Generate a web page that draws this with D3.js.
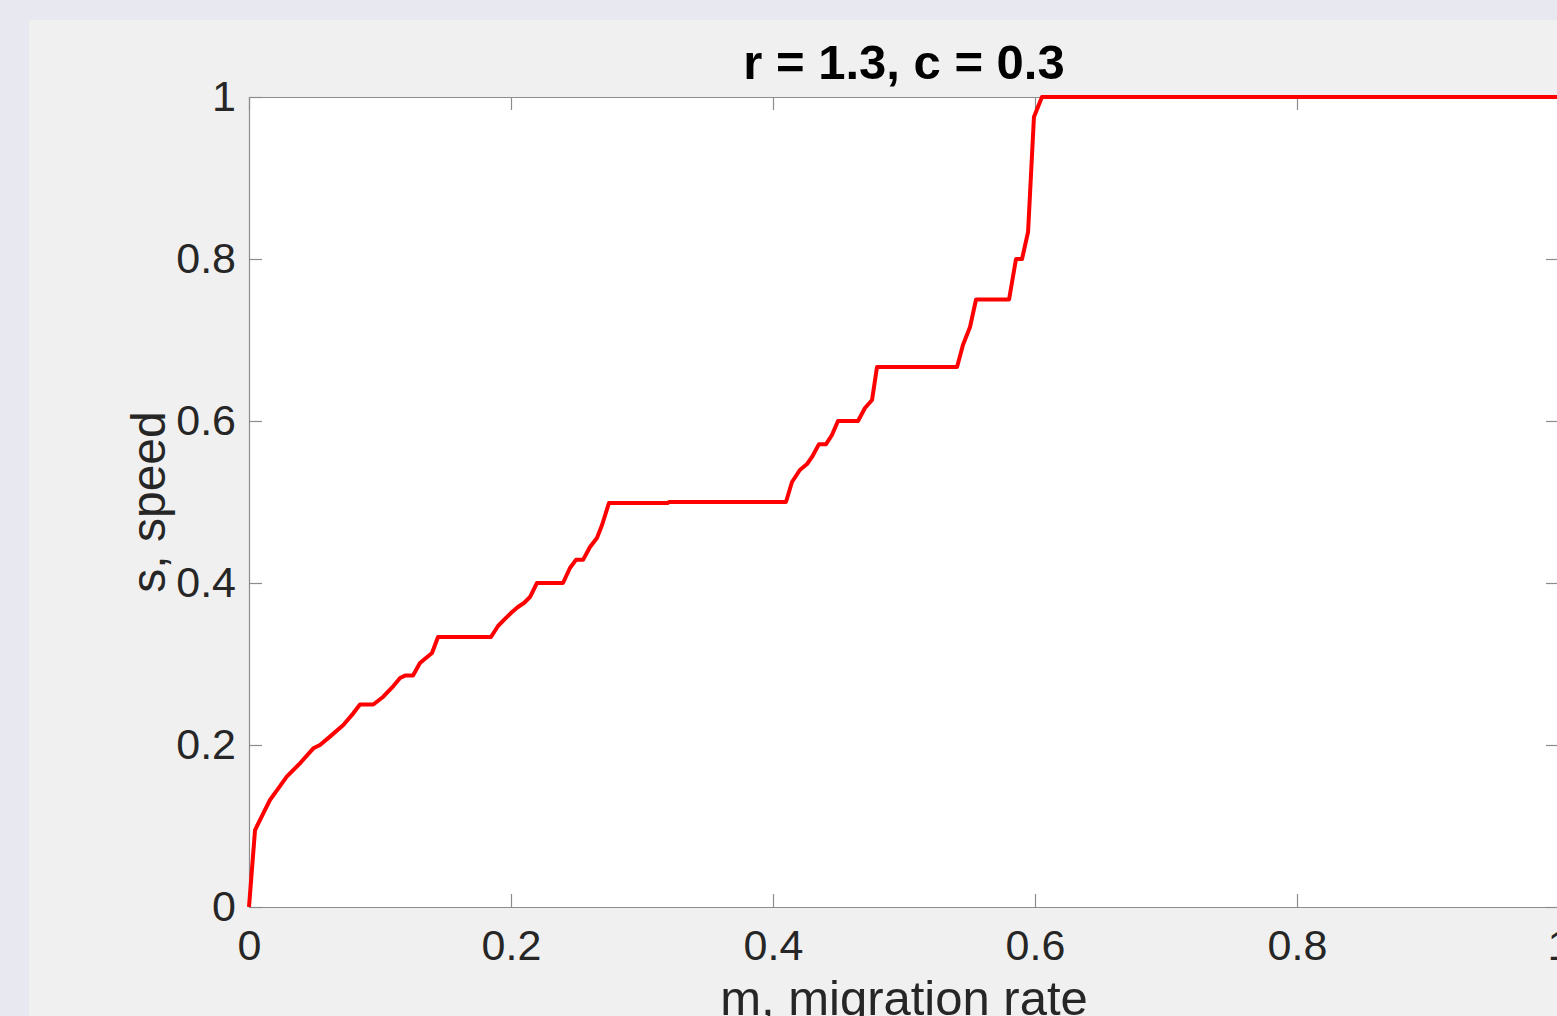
<!DOCTYPE html>
<html>
<head>
<meta charset="utf-8">
<script src="https://cdn.jsdelivr.net/npm/d3@7"></script>
<style>
  html, body { margin: 0; padding: 0; background: #e8e8f1; overflow: hidden; }
  svg { display: block; }
  text { font-family: "Liberation Sans", Arial, Helvetica, sans-serif; fill: #262626; }
</style>
</head>
<body>
<svg id="chart" width="1557" height="1016"></svg>
<script>
// ─── Data ─────────────────────────────────────────────────────
const migration = [0, 0.0046, 0.0109, 0.016, 0.0224, 0.0288, 0.0389, 0.0491, 0.0542, 0.0618,
  0.072, 0.0796, 0.0847, 0.0949, 0.1025, 0.1102, 0.1153, 0.1191, 0.1252, 0.1305,
  0.1397, 0.1443, 0.1847, 0.1901, 0.1954, 0.2008, 0.2053, 0.2099, 0.2145, 0.2198,
  0.2397, 0.245, 0.2496, 0.255, 0.2603, 0.2656, 0.2695, 0.2748, 0.3198, 0.3205,
  0.4099, 0.4145, 0.4205, 0.426, 0.4298, 0.4351, 0.4405, 0.445, 0.4496, 0.4649,
  0.4702, 0.4756, 0.4794, 0.5405, 0.545, 0.5504, 0.555, 0.5802, 0.5855, 0.5901,
  0.5947, 0.5992, 0.6053, 1];
const speed = [0, 0.095, 0.1157, 0.1321, 0.1465, 0.1609, 0.1774, 0.1959, 0.2, 0.2103,
  0.2247, 0.2391, 0.25, 0.25, 0.2596, 0.2728, 0.2827, 0.2857, 0.2857, 0.3012,
  0.3136, 0.3333, 0.3333, 0.3469, 0.3556, 0.3642, 0.3704, 0.3753, 0.3827, 0.4,
  0.4, 0.4185, 0.4286, 0.4286, 0.4444, 0.4556, 0.4716, 0.4988, 0.4988, 0.5,
  0.5, 0.5247, 0.5395, 0.5469, 0.5556, 0.5714, 0.5714, 0.5827, 0.6, 0.6,
  0.616, 0.6259, 0.6667, 0.6667, 0.6938, 0.716, 0.75, 0.75, 0.8, 0.8,
  0.8333, 0.9753, 1, 1];
const xTicks = [0, 0.2, 0.4, 0.6, 0.8, 1];
const yTicks = [0, 0.2, 0.4, 0.6, 0.8, 1];
const tickLabel = d => (d === 0 || d === 1) ? String(d) : d.toFixed(1);

const TITLE = 'r = 1.3, c = 0.3';
const X_LABEL = 'm, migration rate';
const Y_LABEL = 's, speed';

// ─── Layout ───────────────────────────────────────────────────
const PLOT = { left: 249, top: 97, right: 1559, bottom: 907 };
const AXIS_COLOR = '#8c8c8c';
const TICK_LEN = 13;

const svg = d3.select('#chart');

// figure panel
svg.append('rect')
  .attr('x', 29).attr('y', 20)
  .attr('width', 1557 - 29).attr('height', 1016 - 20)
  .attr('fill', '#f0f0f0');

// axes background
svg.append('rect')
  .attr('x', PLOT.left).attr('y', PLOT.top)
  .attr('width', PLOT.right - PLOT.left).attr('height', PLOT.bottom - PLOT.top)
  .attr('fill', '#ffffff');

const x = d3.scaleLinear().domain([0, 1]).range([PLOT.left, PLOT.right]);
const y = d3.scaleLinear().domain([0, 1]).range([PLOT.bottom, PLOT.top]);

function styleAxis(g, showText) {
  g.select('.domain').attr('stroke', AXIS_COLOR).attr('stroke-width', 1.2);
  g.selectAll('.tick line').attr('stroke', AXIS_COLOR).attr('stroke-width', 1.2);
  if (showText) {
    g.selectAll('.tick text')
      .attr('fill', '#262626')
      .style('font-size', '43px');
  } else {
    g.selectAll('.tick text').remove();
  }
  g.attr('font-family', null).attr('font-size', null);
}

// bottom + left with labels, top + right as box ticks
svg.append('g')
  .attr('transform', `translate(0,${PLOT.bottom})`)
  .call(d3.axisBottom(x).tickValues(xTicks).tickFormat(tickLabel)
    .tickSizeInner(-TICK_LEN).tickSizeOuter(0).tickPadding(22))
  .call(g => styleAxis(g, true));

svg.append('g')
  .attr('transform', `translate(${PLOT.left},0)`)
  .call(d3.axisLeft(y).tickValues(yTicks).tickFormat(tickLabel)
    .tickSizeInner(-TICK_LEN).tickSizeOuter(0).tickPadding(13))
  .call(g => styleAxis(g, true));

svg.append('g')
  .attr('transform', `translate(0,${PLOT.top})`)
  .call(d3.axisTop(x).tickValues(xTicks).tickSizeInner(-TICK_LEN).tickSizeOuter(0))
  .call(g => styleAxis(g, false));

svg.append('g')
  .attr('transform', `translate(${PLOT.right},0)`)
  .call(d3.axisRight(y).tickValues(yTicks).tickSizeInner(-TICK_LEN).tickSizeOuter(0))
  .call(g => styleAxis(g, false));

// ─── Line ─────────────────────────────────────────────────────
const points = migration.map((m, i) => [m, speed[i]]);
const line = d3.line().x(d => x(d[0])).y(d => y(d[1]));

svg.append('path')
  .datum(points)
  .attr('d', line)
  .attr('fill', 'none')
  .attr('stroke', '#ff0000')
  .attr('stroke-width', 4)
  .attr('stroke-linejoin', 'round');

// ─── Text ─────────────────────────────────────────────────────
svg.append('text')
  .attr('x', (PLOT.left + PLOT.right) / 2)
  .attr('y', 79)
  .attr('text-anchor', 'middle')
  .style('font-size', '49px')
  .style('font-weight', 'bold')
  .style('fill', '#000')
  .text(TITLE);

svg.append('text')
  .attr('x', (PLOT.left + PLOT.right) / 2)
  .attr('y', 1015)
  .attr('text-anchor', 'middle')
  .style('font-size', '49px')
  .text(X_LABEL);

svg.append('text')
  .attr('transform', `translate(165,${(PLOT.top + PLOT.bottom) / 2}) rotate(-90)`)
  .attr('text-anchor', 'middle')
  .style('font-size', '48px')
  .text(Y_LABEL);
</script>
</body>
</html>
